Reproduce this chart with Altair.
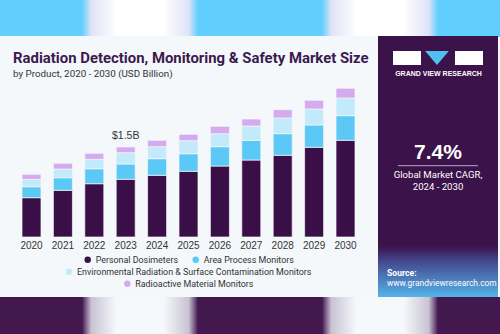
import altair as alt
import pandas as pd

# ---------------- data ----------------
years = ["2020", "2021", "2022", "2023", "2024", "2025", "2026", "2027", "2028", "2029", "2030"]
personal = [0.655, 0.778, 0.888, 0.962, 1.028, 1.095, 1.183, 1.283, 1.362, 1.495, 1.612]
area = [0.183, 0.210, 0.250, 0.255, 0.277, 0.293, 0.322, 0.328, 0.360, 0.372, 0.410]
env = [0.123, 0.145, 0.157, 0.188, 0.200, 0.217, 0.217, 0.238, 0.262, 0.267, 0.295]
rad = [0.083, 0.095, 0.100, 0.095, 0.107, 0.107, 0.123, 0.117, 0.138, 0.145, 0.162]
series = [
    "Personal Dosimeters",
    "Area Process Monitors",
    "Environmental Radiation & Surface Contamination Monitors",
    "Radioactive Material Monitors",
]
colors = ["#3a0f47", "#5cc8f5", "#c2eafa", "#d5aaee"]
callout_year = ["2023"]
callout_text = ["$1.5B"]
title_text = "Radiation Detection, Monitoring & Safety Market  Size"
subtitle_text = "by Product, 2020 - 2030 (USD Billion)"
cagr_value = "7.4%"
cagr_lines = ["Global Market CAGR,", "2024 - 2030"]
brand = "GRAND VIEW RESEARCH"
source_lines = ["Source:", "www.grandviewresearch.com"]

values_by_series = [personal, area, env, rad]
rows = []
for i, y in enumerate(years):
    for j, s in enumerate(series):
        rows.append({"year": y, "series": s, "order": j, "value": values_by_series[j][i]})
df = pd.DataFrame(rows)
totals = df.groupby("year", as_index=False)["value"].sum().rename(columns={"value": "total"})
callout_df = totals[totals["year"].isin(callout_year)].copy()
callout_df["label"] = callout_text

FN = "Roboto"
FR = "Liberation Sans"

W, H = 500, 334
one = alt.Data(values=[{}])

xscale = alt.Scale(domain=years, range=[15.8, 361.2], paddingInner=0.395, paddingOuter=0.1975)
yscale = alt.Scale(domain=[0, 3], range=[237, 57], nice=False, zero=True)


def box(x, x2, y, y2, color):
    return alt.Chart(one).mark_rect(color=color).encode(
        x=alt.value(x), x2=alt.value(x2), y=alt.value(y), y2=alt.value(y2)
    )


def hgrad(c_edge, c_mid, c_center):
    return alt.Gradient(
        gradient="linear",
        stops=[
            alt.GradientStop(offset=0, color=c_edge),
            alt.GradientStop(offset=0.08, color=c_mid),
            alt.GradientStop(offset=0.3, color=c_center),
            alt.GradientStop(offset=0.7, color=c_center),
            alt.GradientStop(offset=0.92, color=c_mid),
            alt.GradientStop(offset=1, color=c_edge),
        ],
        x1=0, x2=1, y1=0, y2=0,
    )


def txt(s, x, y, size, color="#333333", font=FN, weight="normal", align="left", baseline="alphabetic"):
    return alt.Chart(one).mark_text(
        text=s, font=font, fontSize=size, fontWeight=weight, color=color, align=align, baseline=baseline
    ).encode(x=alt.value(x), y=alt.value(y))


layers = []
# background bands
layers.append(box(0, W, 0, 37, "#62cefe"))
layers.append(box(0, W, 297, H, "#43184f"))
layers.append(box(82, 198, 0, 37, hgrad("#62cefe", "#dfe3f6", "#ffffff")))
layers.append(box(322, 438, 0, 37, hgrad("#62cefe", "#dfe3f6", "#ffffff")))
layers.append(box(82, 198, 297, H, hgrad("#43184f", "#c9c3d3", "#f6f9fc")))
layers.append(box(322, 438, 297, H, hgrad("#43184f", "#c9c3d3", "#f6f9fc")))
# card and panel
layers.append(box(0, 378, 36, 297, "#f4f8fb"))
layers.append(box(378, 498, 36, 297, "#3b1249"))
layers.append(box(378, 498, 246, 297, alt.Gradient(
    gradient="linear",
    stops=[
        alt.GradientStop(offset=0, color="#3b1249"),
        alt.GradientStop(offset=0.3, color="#44488e"),
        alt.GradientStop(offset=1, color="#55b4ea"),
    ],
    x1=0, x2=0, y1=0, y2=1,
)))

# titles
layers.append(txt(title_text, 13, 62.5, 14.9, color="#3b1a4f", weight="bold"))
layers.append(txt(subtitle_text, 13, 76.5, 9.8, color="#333333"))

# bars
bars = alt.Chart(df).mark_bar(stroke="#f4f8fb", strokeWidth=0.7).encode(
    x=alt.X("year:N", scale=xscale, axis=None),
    y=alt.Y("value:Q", stack="zero", scale=yscale, axis=None),
    color=alt.Color("series:N", scale=alt.Scale(domain=series, range=colors), legend=None),
    order=alt.Order("order:Q", sort="ascending"),
)
layers.append(bars)

# year labels
year_labels = alt.Chart(totals).mark_text(font=FR, fontSize=10, color="#333333", baseline="alphabetic").encode(
    x=alt.X("year:N", scale=xscale, axis=None),
    y=alt.value(248.5),
    text="year:N",
)
layers.append(year_labels)

# callout
callout = alt.Chart(callout_df).mark_text(font=FR, fontSize=10.5, color="#333333", baseline="alphabetic", dy=-8).encode(
    x=alt.X("year:N", scale=xscale, axis=None),
    y=alt.Y("total:Q", scale=yscale, axis=None),
    text="label:N",
)
layers.append(callout)

# legend (manual, centered flow)
legend_items = [(87.7, 259.7), (195.7, 259.7), (69, 271.7), (127.3, 283.7)]
for (lx, ly), s, c in zip(legend_items, series, colors):
    layers.append(alt.Chart(one).mark_point(filled=True, size=42, color=c, opacity=1).encode(
        x=alt.value(lx), y=alt.value(ly)))
    layers.append(txt(s, lx + 8, ly, 8.9, color="#333333", baseline="middle"))

# logo
layers.append(box(393, 421, 51, 65, "#ffffff"))
layers.append(box(455, 483, 51, 65, "#ffffff"))
layers.append(alt.Chart(one).mark_point(
    shape="M-1,-0.6L1,-0.6L0,0.6Z", filled=True, size=560, color="#4fc0f0", opacity=1
).encode(x=alt.value(437), y=alt.value(58)))
layers.append(txt(brand, 438.5, 76, 7, color="#ffffff", font=FR, weight="bold", align="center"))

# CAGR
layers.append(txt(cagr_value, 438, 159, 21, color="#ffffff", font=FR, weight="bold", align="center"))
layers.append(alt.Chart(one).mark_rule(color="#b9a9c6", strokeWidth=1).encode(
    x=alt.value(398), x2=alt.value(478), y=alt.value(165.7)))
layers.append(txt(cagr_lines[0], 438, 175, 9.6, color="#ffffff", align="center", baseline="middle"))
layers.append(txt(cagr_lines[1], 438, 187, 9.6, color="#ffffff", align="center", baseline="middle"))

# source
layers.append(txt(source_lines[0], 387, 273, 8.6, color="#ffffff", weight="bold", baseline="middle"))
layers.append(txt(source_lines[1], 387, 282.5, 8.4, color="#ffffff", baseline="middle"))

chart = alt.layer(*layers).properties(
    width=W, height=H, padding=0, autosize=alt.AutoSizeParams(type="none"), background="#f4f8fb"
).configure_view(stroke=None)

chart.save("out.html", embed_options={"renderer": "svg", "actions": False})
